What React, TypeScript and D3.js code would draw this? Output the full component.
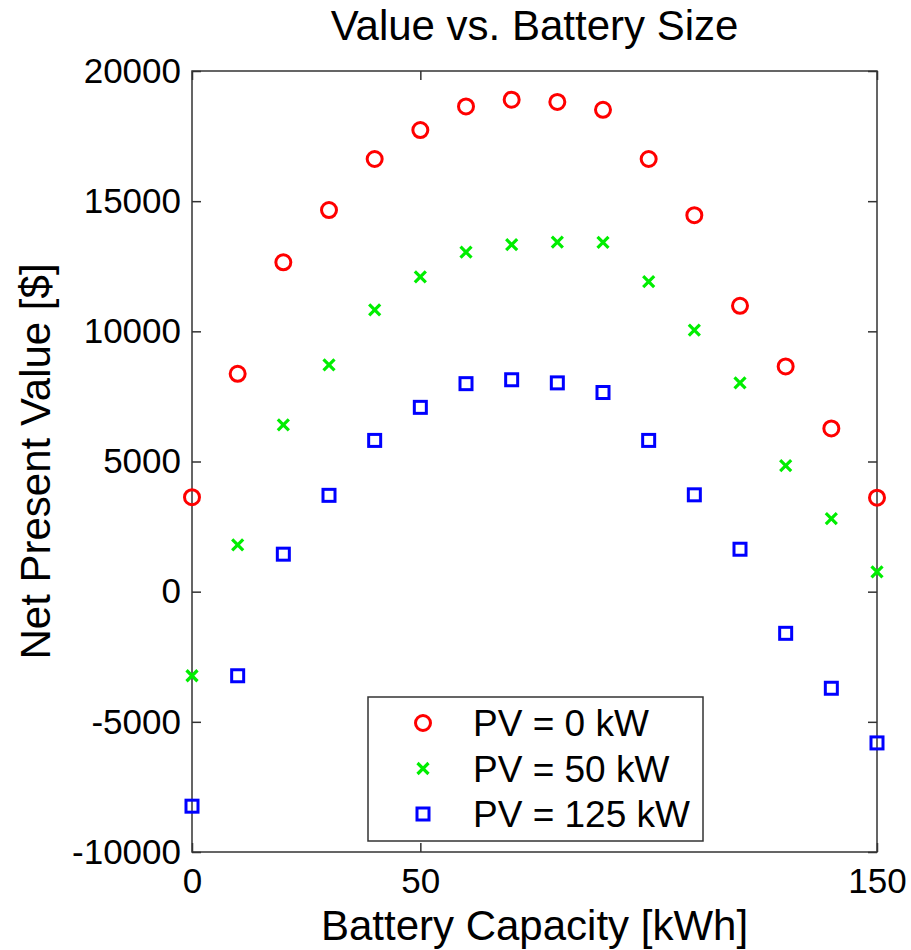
import React, { useEffect, useRef } from 'react';
import * as d3 from 'd3';

// battery capacity [kWh]
const capacities = [0, 10, 20, 30, 40, 50, 60, 70, 80, 90, 100, 110, 120, 130, 140, 150];
// net present value [$] per PV size
const npvPv0 = [3630, 8370, 12650, 14660, 16620, 17730, 18640, 18900, 18810, 18510, 16620, 14460, 10980, 8650, 6270, 3610];
const npvPv50 = [-3230, 1800, 6410, 8710, 10820, 12090, 13040, 13330, 13430, 13420, 11910, 10050, 8020, 4840, 2810, 760];
const npvPv125 = [-8240, -3230, 1440, 3700, 5810, 7080, 7990, 8140, 8020, 7650, 5810, 3720, 1630, -1600, -3710, -5810];
const seriesLabels = ['PV = 0 kW', 'PV = 50 kW', 'PV = 125 kW'];
const xTicks = [0, 50, 150];
const yTicks = [-10000, -5000, 0, 5000, 10000, 15000, 20000];

const FONT = 'Liberation Sans, Arial, Helvetica, sans-serif';

export default function App() {
    const ref = useRef<SVGSVGElement>(null);
    const width = 911;
    const height = 950;
    const margin = { top: 71, right: 34, bottom: 98, left: 192 };

    useEffect(() => {
        const svg = d3.select(ref.current);
        svg.selectAll('*').remove();

        const x = d3.scaleLinear().domain([0, 150]).range([margin.left, width - margin.right]);
        const y = d3.scaleLinear().domain([-10000, 20000]).range([height - margin.bottom, margin.top]);
        const x0 = x.range()[0], x1 = x.range()[1];
        const y0 = y.range()[0], y1 = y.range()[1];
        const axisColor = '#333';

        // title
        svg.append('text')
            .attr('x', (x0 + x1) / 2)
            .attr('y', 40)
            .attr('text-anchor', 'middle')
            .style('font-family', FONT)
            .style('font-size', '42px')
            .text('Value vs. Battery Size');

        // frame
        svg.append('rect')
            .attr('x', x0).attr('y', y1)
            .attr('width', x1 - x0).attr('height', y0 - y1)
            .attr('fill', 'none')
            .attr('stroke', axisColor)
            .attr('stroke-width', 1.5);

        // axes with inward ticks, mirrored on opposite side
        const fmt = (d: any) => String(d);
        const xAxis = d3.axisBottom(x).tickValues(xTicks).tickSize(-9).tickPadding(16).tickFormat(fmt);
        const yAxis = d3.axisLeft(y).tickValues(yTicks).tickSize(-9).tickPadding(11).tickFormat(fmt);
        const gx = svg.append('g').attr('transform', 'translate(0,' + y0 + ')').call(xAxis);
        const gy = svg.append('g').attr('transform', 'translate(' + x0 + ',0)').call(yAxis);
        const gxTop = svg.append('g').attr('transform', 'translate(0,' + y1 + ')')
            .call(d3.axisTop(x).tickValues(xTicks).tickSize(-9).tickFormat(() => ''));
        const gyRight = svg.append('g').attr('transform', 'translate(' + x1 + ',0)')
            .call(d3.axisRight(y).tickValues(yTicks).tickSize(-9).tickFormat(() => ''));
        [gx, gy, gxTop, gyRight].forEach(g => {
            g.select('.domain').remove();
            g.selectAll('line').attr('stroke', axisColor).attr('stroke-width', 1.5);
            g.selectAll('text')
                .style('font-family', FONT)
                .style('font-size', '35px')
                .attr('fill', '#000');
        });

        // axis labels
        svg.append('text')
            .attr('x', (x0 + x1) / 2)
            .attr('y', 940)
            .attr('text-anchor', 'middle')
            .style('font-family', FONT)
            .style('font-size', '42px')
            .text('Battery Capacity [kWh]');
        svg.append('text')
            .attr('transform', 'translate(50,' + (y0 + y1) / 2 + ') rotate(-90)')
            .attr('text-anchor', 'middle')
            .style('font-family', FONT)
            .style('font-size', '42px')
            .text('Net Present Value [$]');

        const drawMarker = (g: any, type: number, cx: number, cy: number) => {
            if (type === 0) {
                g.append('circle')
                    .attr('cx', cx).attr('cy', cy).attr('r', 7.5)
                    .attr('fill', 'none').attr('stroke', '#ff0000').attr('stroke-width', 3);
            } else if (type === 1) {
                const s = 5.5;
                g.append('path')
                    .attr('d', `M${cx - s},${cy - s}L${cx + s},${cy + s}M${cx - s},${cy + s}L${cx + s},${cy - s}`)
                    .attr('stroke', '#00ee00').attr('stroke-width', 3.2).attr('fill', 'none');
            } else {
                g.append('rect')
                    .attr('x', cx - 6).attr('y', cy - 6).attr('width', 12).attr('height', 12)
                    .attr('fill', 'none').attr('stroke', '#0000ff').attr('stroke-width', 3);
            }
        };

        const series = [npvPv0, npvPv50, npvPv125];
        const points = svg.append('g');
        series.forEach((vals, si) => {
            vals.forEach((v, i) => drawMarker(points, si, x(capacities[i]), y(v)));
        });

        // legend
        const legend = svg.append('g');
        legend.append('rect')
            .attr('x', 368).attr('y', 697).attr('width', 335).attr('height', 144)
            .attr('fill', '#fff').attr('stroke', axisColor).attr('stroke-width', 1.5);
        seriesLabels.forEach((label, i) => {
            const ly = 723 + i * 45.5;
            drawMarker(legend, i, 423, ly);
            legend.append('text')
                .attr('x', 473).attr('y', ly + 13)
                .style('font-family', FONT)
                .style('font-size', '37px')
                .text(label);
        });
    }, []);

    return (
        <svg ref={ref} width={width} height={height}
            style={{ position: 'absolute', left: 0, top: 0, background: '#fff' }} />
    );
}
